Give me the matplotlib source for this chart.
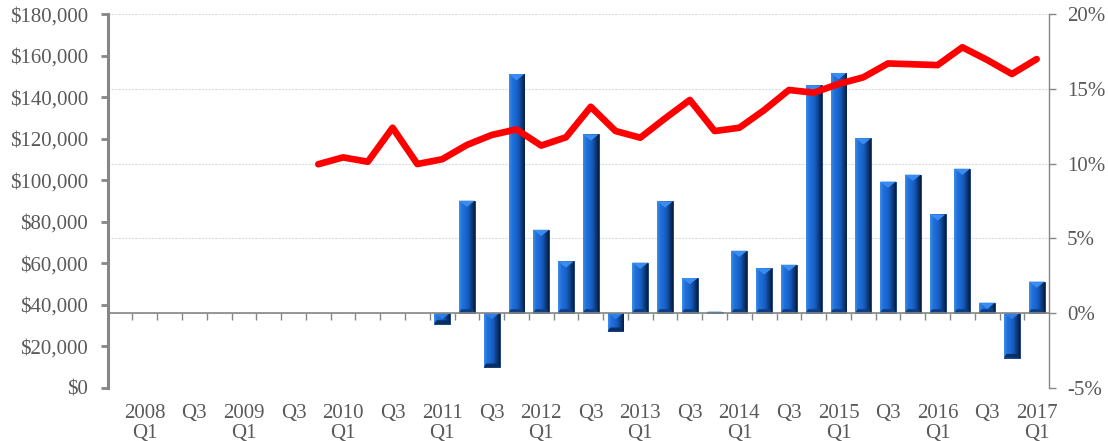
import numpy as np
import matplotlib
matplotlib.use('Agg')
import matplotlib.pyplot as plt
import matplotlib.ticker as ticker
from matplotlib.colors import LinearSegmentedColormap
from matplotlib.patches import Polygon

plt.rcParams.update({'font.family': 'Liberation Serif', 'font.size': 15})

# quarters 2007 Q4 .. 2017 Q1 (first slot is empty in the source chart)
quarters = ['2007 Q4'] + [f'{y} Q{q}' for y in range(2008, 2017) for q in (1, 2, 3, 4)] + ['2017 Q1']

tick_labels = ['2008\nQ1', 'Q3', '2009\nQ1', 'Q3', '2010\nQ1', 'Q3', '2011\nQ1', 'Q3',
               '2012\nQ1', 'Q3', '2013\nQ1', 'Q3', '2014\nQ1', 'Q3', '2015\nQ1', 'Q3',
               '2016\nQ1', 'Q3', '2017\nQ1']

# bars: % change (right axis)
pct_change = [np.nan] * 13 + [
    -0.74, 7.52, -3.64, 16.0, 5.57, 3.46, 11.96, -1.23, 3.37, 7.47, 2.34, 0.09,
    4.17, 2.99, 3.23, 15.25, 16.07, 11.7, 8.8, 9.26, 6.6, 9.66, 0.69, -3.0, 2.1]

# line: dollar value (left axis)
dollar_value = [np.nan] * 8 + [
    107700, 111000, 108900, 125300, 107800, 110100, 117000, 121800, 124500, 116700,
    120700, 135400, 123700, 120500, 129800, 138700, 123700, 125300, 133800, 143500,
    142200, 146400, 149600, 156300, 155900, 155500, 164100, 158000, 151200, 158400]

x = np.arange(len(quarters))
text_col = '#595959'
axis_col = '#868686'

fig = plt.figure(figsize=(11.08, 4.41), dpi=100)
ax = fig.add_axes([0.0972, 0.1211, 0.8496, 0.8465])
ax2 = ax.twinx()

# --- bars on percent axis (drawn underneath), bevelled look ---
bev = LinearSegmentedColormap.from_list('bev', ['#3F8EEA', '#2070DC', '#1B68D2', '#1659BC', '#0D3C7E', '#061D40'])
bars = ax2.bar(x, pct_change, width=0.64, color='#1B68D0', edgecolor='#0B3370', linewidth=0.6, zorder=2)
grad = np.linspace(0, 1, 64).reshape(1, -1)
bevel_depth = 0.42  # in % units, roughly 6 px
for rect in bars:
    h = rect.get_height()
    if not np.isfinite(h) or h == 0:
        continue
    x0, y0, w = rect.get_x(), rect.get_y(), rect.get_width()
    im = ax2.imshow(grad, cmap=bev, extent=[x0, x0 + w, y0, y0 + h], aspect='auto',
                    interpolation='bicubic', zorder=2.1)
    im.set_clip_path(rect)
    d = min(bevel_depth, abs(h))
    if h > 0:
        top = y0 + h
        tri = Polygon([[x0, top], [x0 + w, top], [x0 + w / 2, top - d]], closed=True,
                      facecolor='#3A8CF0', edgecolor='none', zorder=2.2)
        ax2.add_patch(tri)
        bot = Polygon([[x0, y0], [x0 + w, y0], [x0 + w * 0.85, y0 + d * 0.6], [x0 + w * 0.15, y0 + d * 0.6]],
                      closed=True, facecolor='#0E3F85', edgecolor='none', zorder=2.2)
        ax2.add_patch(bot)
    else:
        tri = Polygon([[x0, y0], [x0 + w, y0], [x0 + w / 2, y0 - d]], closed=True,
                      facecolor='#2F80E6', edgecolor='none', zorder=2.2)
        ax2.add_patch(tri)
        bot = Polygon([[x0, y0 + h], [x0 + w, y0 + h], [x0 + w * 0.85, y0 + h + d * 0.6], [x0 + w * 0.15, y0 + h + d * 0.6]],
                      closed=True, facecolor='#0A2F66', edgecolor='none', zorder=2.2)
        ax2.add_patch(bot)

ax2.set_ylim(-5, 20)
ax2.set_yticks([-5, 0, 5, 10, 15, 20])
ax2.yaxis.set_major_formatter(ticker.FuncFormatter(lambda v, _: f'{int(v)}%'))
ax2.tick_params(axis='y', colors=axis_col, labelcolor=text_col, length=5, width=1, pad=8)
ax2.grid(axis='y', color='#DCDCDC', linestyle=(0, (2, 1)), linewidth=0.8, zorder=0)
ax2.set_axisbelow(True)

# category axis line at 0%, with ticks between categories
ax2.xaxis.set_visible(True)
ax2.spines['bottom'].set_position(('data', 0))
ax2.spines['bottom'].set_color(axis_col)
ax2.spines['bottom'].set_linewidth(1.2)
ax2.spines['bottom'].set_zorder(3)
ax2.spines['top'].set_visible(False)
ax2.spines['left'].set_visible(False)
ax2.spines['right'].set_color(axis_col)
ax2.spines['right'].set_linewidth(1.0)

# --- line on dollar axis (on top) ---
ax.set_zorder(ax2.get_zorder() + 1)
ax.patch.set_visible(False)
ax.plot(x, dollar_value, color='#FF0000', linewidth=4.8, solid_joinstyle='round',
        solid_capstyle='round', zorder=4)
ax.set_ylim(0, 180000)
ax.set_yticks(np.arange(0, 180001, 20000))
ax.yaxis.set_major_formatter(ticker.FuncFormatter(lambda v, _: f'${int(v):,}'))
ax.tick_params(axis='y', colors=axis_col, labelcolor=text_col, length=5, width=2, pad=9)
ax.spines['left'].set_color(axis_col)
ax.spines['left'].set_linewidth(2.2)
for s in ('top', 'right', 'bottom'):
    ax.spines[s].set_visible(False)

ax.set_xlim(-0.5, len(quarters) - 0.5)
ax.set_xticks(x[1::2])
ax.set_xticklabels(tick_labels, linespacing=1.05, color=text_col)
ax.xaxis.set_minor_locator(ticker.FixedLocator(x[:-1] + 0.5))
ax.tick_params(axis='x', which='both', length=0, pad=12)
ax2.tick_params(axis='x', which='major', length=0, labelbottom=False)
ax2.tick_params(axis='x', which='minor', length=5, width=1, color=axis_col, direction='out')
ax2.set_xlim(-0.5, len(quarters) - 0.5)

fig.savefig('out.png', dpi=100, facecolor='white')
